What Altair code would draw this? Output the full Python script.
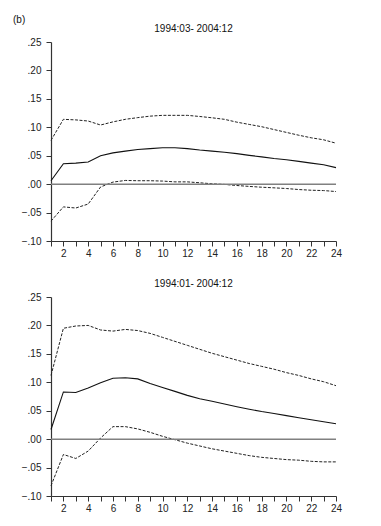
import altair as alt
import pandas as pd

horizons = list(range(1, 25))

# Panel 1: 1994:03- 2004:12
mid_top = [0.006, 0.036, 0.037, 0.039, 0.050, 0.055, 0.058, 0.061, 0.0625, 0.064, 0.064, 0.0625,
           0.060, 0.058, 0.056, 0.0536, 0.0506, 0.048, 0.045, 0.043, 0.040, 0.037, 0.034, 0.029]
upper_top = [0.077, 0.114, 0.113, 0.111, 0.104, 0.1095, 0.114, 0.117, 0.1196, 0.121, 0.121, 0.121,
             0.119, 0.1167, 0.114, 0.109, 0.105, 0.101, 0.096, 0.091, 0.086, 0.0815, 0.078, 0.072]
lower_top = [-0.065, -0.040, -0.042, -0.035, -0.005, 0.0036, 0.0065, 0.006, 0.006, 0.0054, 0.004, 0.004,
             0.0024, 0.0006, -0.0005, -0.0024, -0.004, -0.0054, -0.0065, -0.0077, -0.0095, -0.0107, -0.0113, -0.013]

# Panel 2: 1994:01- 2004:12
mid_bot = [0.017, 0.083, 0.082, 0.090, 0.099, 0.107, 0.108, 0.106, 0.098, 0.091, 0.084, 0.077,
           0.071, 0.0665, 0.0617, 0.057, 0.0527, 0.0485, 0.045, 0.0413, 0.0377, 0.034, 0.0305, 0.027]
upper_bot = [0.112, 0.195, 0.199, 0.200, 0.192, 0.190, 0.193, 0.191, 0.186, 0.179, 0.172, 0.165,
             0.158, 0.151, 0.145, 0.139, 0.133, 0.128, 0.123, 0.117, 0.112, 0.106, 0.101, 0.094]
lower_bot = [-0.082, -0.027, -0.034, -0.021, 0.002, 0.022, 0.022, 0.018, 0.012, 0.005, -0.001, -0.007,
             -0.012, -0.017, -0.021, -0.025, -0.029, -0.032, -0.034, -0.036, -0.037, -0.039, -0.040, -0.040]

titles = ["1994:03- 2004:12", "1994:01- 2004:12"]
y_ticks = [-0.10, -0.05, 0.00, 0.05, 0.10, 0.15, 0.20, 0.25]

W, H = 285, 199
FONT = "Liberation Sans"

x_scale = alt.Scale(domain=[1, 24], nice=False, zero=False)
y_scale = alt.Scale(domain=[-0.10, 0.25], nice=False, zero=False)
x_axis = alt.Axis(values=horizons, title=None, grid=False, tickSize=5,
                  labelExpr="datum.value % 2 == 0 ? datum.label : ''",
                  labelPadding=2, labelFlush=False, labelOverlap=False)
y_axis = alt.Axis(values=y_ticks, title=None, grid=False, tickSize=5,
                  labelExpr="replace(format(datum.value, '.2f'), '0.', '.')",
                  labelPadding=5, labelOverlap=False, minExtent=38)


def panel(title, lower, mid, upper):
    df = pd.DataFrame({
        "h": horizons * 3,
        "v": lower + mid + upper,
        "s": ["lower"] * 24 + ["mid"] * 24 + ["upper"] * 24,
    })
    x = alt.X("h:Q", scale=x_scale, axis=x_axis)
    y = alt.Y("v:Q", scale=y_scale, axis=y_axis)
    base = alt.Chart(df)
    zero = alt.Chart(pd.DataFrame({"h": [1], "h2": [24], "v": [0.0]})).mark_rule(
        color="#808080", strokeWidth=1.5).encode(x=x, x2="h2:Q", y=y)
    solid = base.transform_filter("datum.s == 'mid'").mark_line(
        color="#111111", strokeWidth=1.1).encode(x=x, y=y)
    dashed_u = base.transform_filter("datum.s == 'upper'").mark_line(
        color="#222222", strokeWidth=1.0, strokeDash=[3, 1.5]).encode(x=x, y=y)
    dashed_l = base.transform_filter("datum.s == 'lower'").mark_line(
        color="#222222", strokeWidth=1.0, strokeDash=[3, 1.5]).encode(x=x, y=y)
    return alt.layer(solid, dashed_u, dashed_l, zero).properties(
        width=W, height=H,
        title=alt.TitleParams(title, fontSize=10, font=FONT, fontWeight="normal",
                              anchor="middle", offset=3, color="#111"))


top = panel(titles[0], lower_top, mid_top, upper_top)
bot = panel(titles[1], lower_bot, mid_bot, upper_bot)

chart = alt.vconcat(top, bot, spacing=21).properties(
    padding={"left": 5, "top": 7, "right": 5, "bottom": 5},
    title=alt.TitleParams("(b)", fontSize=10, font=FONT, fontWeight="normal",
                          anchor="start", offset=-1, color="#111")
).configure_view(stroke=None).configure_axis(
    domainColor="#333333", tickColor="#333333", labelColor="#222222",
    labelFont=FONT, labelFontSize=10, domainWidth=1.2, tickWidth=1
)

chart.save("out.html", embed_options={"renderer": "svg", "actions": False})
